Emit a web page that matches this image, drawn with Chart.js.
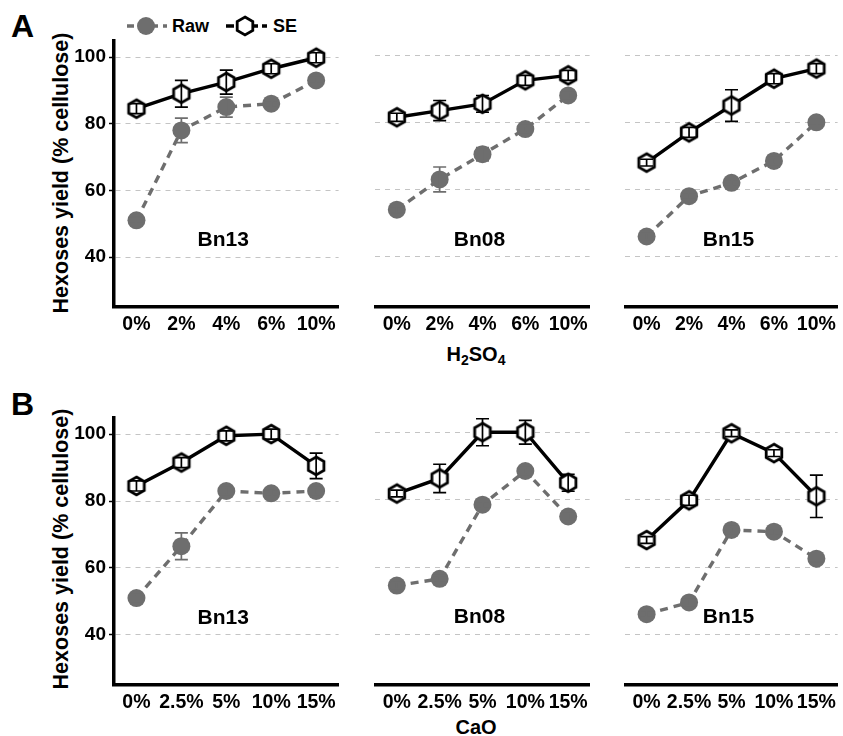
<!DOCTYPE html>
<html><head><meta charset="utf-8">
<script src="https://cdn.jsdelivr.net/npm/chart.js@4.4.1/dist/chart.umd.min.js"></script>
<style>
html,body{margin:0;padding:0;background:#fff;overflow:hidden;}
#wrap{position:relative;width:843px;height:736px;overflow:hidden;font-family:"Liberation Sans",Arial,sans-serif;font-weight:bold;color:#000;}
#wrap canvas{position:absolute;}
.t{position:absolute;white-space:nowrap;line-height:1;}
.mid{transform:translate(0,-50%);}
.cen{transform:translate(-50%,-50%);}
.rot{transform:translate(-50%,-50%) rotate(-90deg);}
sub{font-size:0.7em;vertical-align:-0.3em;line-height:0;}
</style></head><body><div id="wrap">
<div class="t" style="left:11px;top:10px;font-size:32px;">A</div>
<div class="t" style="left:11px;top:388px;font-size:32px;">B</div>
<div class="t rot" style="left:62px;top:173px;font-size:21.5px;">Hexoses yield (% cellulose)</div>
<div class="t rot" style="left:62px;top:549px;font-size:21.5px;">Hexoses yield (% cellulose)</div>
<div class="t cen" style="left:476px;top:354px;font-size:20px;">H<sub>2</sub>SO<sub>4</sub></div>
<div class="t cen" style="left:476px;top:727px;font-size:20px;">CaO</div>
<svg style="position:absolute;left:120px;top:12px;" width="160" height="30">
  <line x1="7" y1="14" x2="47" y2="14" stroke="#6e6e6e" stroke-width="3.4" stroke-dasharray="7,5"/>
  <circle cx="26" cy="14" r="9" fill="#6e6e6e"/>
  <line x1="106" y1="14" x2="147" y2="14" stroke="#000" stroke-width="3.4" stroke-dasharray="8,4"/>
  <polygon points="125,5 132.8,9.5 132.8,18.5 125,23 117.2,18.5 117.2,9.5" fill="#fff" stroke="#000" stroke-width="2.8"/>
</svg>
<div class="t mid" style="left:172px;top:26px;font-size:18px;">Raw</div>
<div class="t mid" style="left:273px;top:26px;font-size:18px;">SE</div>
</div>
<script>
// ---------- data ----------
const catsA = ['0%','2%','4%','6%','10%'];
const catsB = ['0%','2.5%','5%','10%','15%'];
const strains = ['Bn13','Bn08','Bn15'];
const yTicks = [40,60,80,100];

// Panel A (H2SO4)
const rawA_Bn13 = [51, 78, 85, 86, 93];
const rawA_Bn08 = [54, 63, 70.5, 78, 88];
const rawA_Bn15 = [46, 58, 62, 68.5, 80];
const seA_Bn13  = [84.5, 89, 92.5, 96.5, 99.8];
const seA_Bn08  = [81.5, 83.5, 85.5, 92.5, 94];
const seA_Bn15  = [68, 77, 85, 93, 96];
const rawErrA_Bn13 = [1, 3.7, 3, 1, 1];
const rawErrA_Bn08 = [1, 3.7, 2, 1, 1];
const rawErrA_Bn15 = [1, 1, 1, 1, 1];
const seErrA_Bn13  = [1.5, 4, 3.6, 1.5, 1.5];
const seErrA_Bn08  = [1.2, 3, 2.5, 1.5, 1.5];
const seErrA_Bn15  = [1, 1.5, 4.7, 1.5, 1.5];

// Panel B (CaO)
const rawB_Bn13 = [51, 66.5, 83, 82.3, 83];
const rawB_Bn08 = [54.5, 56.5, 78.5, 88.5, 75];
const rawB_Bn15 = [46, 49.5, 71, 70.5, 62.5];
const seB_Bn13  = [84.5, 91.5, 99.5, 100, 90.5];
const seB_Bn08  = [81.8, 86.3, 100, 100, 85];
const seB_Bn15  = [68, 79.8, 99.7, 93.8, 81];
const rawErrB_Bn13 = [1, 4, 1, 1, 1];
const rawErrB_Bn08 = [1, 1, 1, 1, 1];
const rawErrB_Bn15 = [1, 1, 1, 1, 1];
const seErrB_Bn13  = [1.5, 1.5, 1.5, 1.5, 3.8];
const seErrB_Bn08  = [1, 4.2, 4, 3.5, 2.5];
const seErrB_Bn15  = [1, 1.5, 1, 1, 6.3];

const Y_MIN = 25, Y_MAX = 105, LABEL_Y = 45;

// ---------- styling ----------
const RAW_COLOR = '#6e6e6e';
Chart.defaults.font.family = "'Liberation Sans', Arial, sans-serif";
Chart.defaults.font.weight = 'bold';
Chart.defaults.color = '#000';

function hexImage(){
  const c = document.createElement('canvas');
  c.width = 26; c.height = 26;
  const g = c.getContext('2d');
  const R = 9, cx = 13, cy = 13;
  g.beginPath();
  for(let k=0;k<6;k++){
    const a = -Math.PI/2 + k*Math.PI/3;
    const px = cx + R*Math.cos(a), py = cy + R*Math.sin(a);
    k===0 ? g.moveTo(px,py) : g.lineTo(px,py);
  }
  g.closePath();
  g.fillStyle = '#fff'; g.fill();
  g.lineWidth = 2.8; g.strokeStyle = '#000'; g.stroke();
  return c;
}
const HEX = hexImage();

const errorBars = {
  id: 'errorBars',
  afterDatasetsDraw(chart){
    const ctx = chart.ctx, ys = chart.scales.y;
    chart.data.datasets.forEach((ds,i)=>{
      if(!ds.errors) return;
      const meta = chart.getDatasetMeta(i);
      ctx.save();
      ctx.strokeStyle = ds.errColor; ctx.lineWidth = 1.7; ctx.setLineDash([]);
      meta.data.forEach((pt,j)=>{
        const v = ds.data[j], e = ds.errors[j];
        const y1 = ys.getPixelForValue(v+e), y2 = ys.getPixelForValue(v-e);
        const x = pt.x, w = 6.5;
        ctx.beginPath();
        ctx.moveTo(x,y1); ctx.lineTo(x,y2);
        ctx.moveTo(x-w,y1); ctx.lineTo(x+w,y1);
        ctx.moveTo(x-w,y2); ctx.lineTo(x+w,y2);
        ctx.stroke();
      });
      ctx.restore();
    });
  }
};

const strainLabel = {
  id: 'strainLabel',
  afterDatasetsDraw(chart, args, opts){
    const ctx = chart.ctx, a = chart.chartArea;
    ctx.save();
    ctx.font = "bold 21px 'Liberation Sans', Arial, sans-serif";
    ctx.fillStyle = '#000'; ctx.textAlign = 'center'; ctx.textBaseline = 'middle';
    ctx.fillText(opts.text, (a.left+a.right)/2 - 3, chart.scales.y.getPixelForValue(LABEL_Y));
    ctx.restore();
  }
};

const rows = [{t:38, b:307}, {t:415, b:685}];
const cols = [{l:114, r:349}, {l:363, r:600}, {l:613, r:848}];
const PADT = 12, XAXH = 40, YAXW = 54, PADR = 2;

const panels = [
  {row:0, col:0, cats:catsA, raw:rawA_Bn13, se:seA_Bn13, rawE:rawErrA_Bn13, seE:seErrA_Bn13},
  {row:0, col:1, cats:catsA, raw:rawA_Bn08, se:seA_Bn08, rawE:rawErrA_Bn08, seE:seErrA_Bn08},
  {row:0, col:2, cats:catsA, raw:rawA_Bn15, se:seA_Bn15, rawE:rawErrA_Bn15, seE:seErrA_Bn15},
  {row:1, col:0, cats:catsB, raw:rawB_Bn13, se:seB_Bn13, rawE:rawErrB_Bn13, seE:seErrB_Bn13},
  {row:1, col:1, cats:catsB, raw:rawB_Bn08, se:seB_Bn08, rawE:rawErrB_Bn08, seE:seErrB_Bn08},
  {row:1, col:2, cats:catsB, raw:rawB_Bn15, se:seB_Bn15, rawE:rawErrB_Bn15, seE:seErrB_Bn15},
];

const wrap = document.getElementById('wrap');
panels.forEach(p=>{
  const R = rows[p.row], C = cols[p.col];
  const first = p.col === 0;
  const yw = first ? YAXW : 0;
  const cv = document.createElement('canvas');
  const W = C.r - C.l + yw + PADR, H = R.b - R.t + PADT + XAXH;
  cv.style.left = (C.l - yw) + 'px';
  cv.style.top = (R.t - PADT) + 'px';
  cv.style.width = W + 'px'; cv.style.height = H + 'px';
  cv.width = W; cv.height = H;
  wrap.appendChild(cv);
  new Chart(cv, {
    type: 'line',
    data: {
      labels: p.cats,
      datasets: [
        { label:'SE', data:p.se, errors:p.seE, errColor:'#000',
          borderColor:'#000', borderWidth:3.4, pointStyle:HEX, pointRadius:9,
          pointHoverRadius:9, tension:0, clip:false },
        { label:'Raw', data:p.raw, errors:p.rawE, errColor:RAW_COLOR,
          borderColor:RAW_COLOR, borderWidth:3.4, borderDash:[8,6],
          pointStyle:'circle', pointRadius:9, pointHoverRadius:9,
          pointBackgroundColor:RAW_COLOR, pointBorderColor:RAW_COLOR, pointBorderWidth:0,
          tension:0, clip:false }
      ]
    },
    options: {
      responsive:false, animation:false, events:[],
      layout:{ padding:{ top:PADT, right:PADR, left:0, bottom:0 } },
      plugins:{ legend:{display:false}, tooltip:{enabled:false},
                strainLabel:{ text: strains[p.col] } },
      scales:{
        x:{
          type:'category', offset:true,
          grid:{ display:false, drawTicks:false },
          border:{ display:true, color:'#000', width:3.5 },
          ticks:{ font:{size:19.5, weight:'bold'}, color:'#000', padding:6,
                  maxRotation:0, autoSkip:false },
          afterFit(s){ s.height = XAXH; }
        },
        y:{
          min:Y_MIN, max:Y_MAX,
          afterBuildTicks(s){ s.ticks = yTicks.map(v=>({value:v})); },
          grid:{ color:'#c4c4c4', lineWidth:1, drawTicks:first, tickLength:5,
                 tickColor:'#000', tickWidth:1.5, tickBorderDash:[] },
          border:{ display:first, color:'#000', width:3.5, dash:[5,5] },
          ticks:{ display:first, font:{size:19, weight:'bold'}, color:'#000', padding:3 },
          afterFit(s){ s.width = yw; }
        }
      }
    },
    plugins:[errorBars, strainLabel]
  });
});
</script>
</body></html>
